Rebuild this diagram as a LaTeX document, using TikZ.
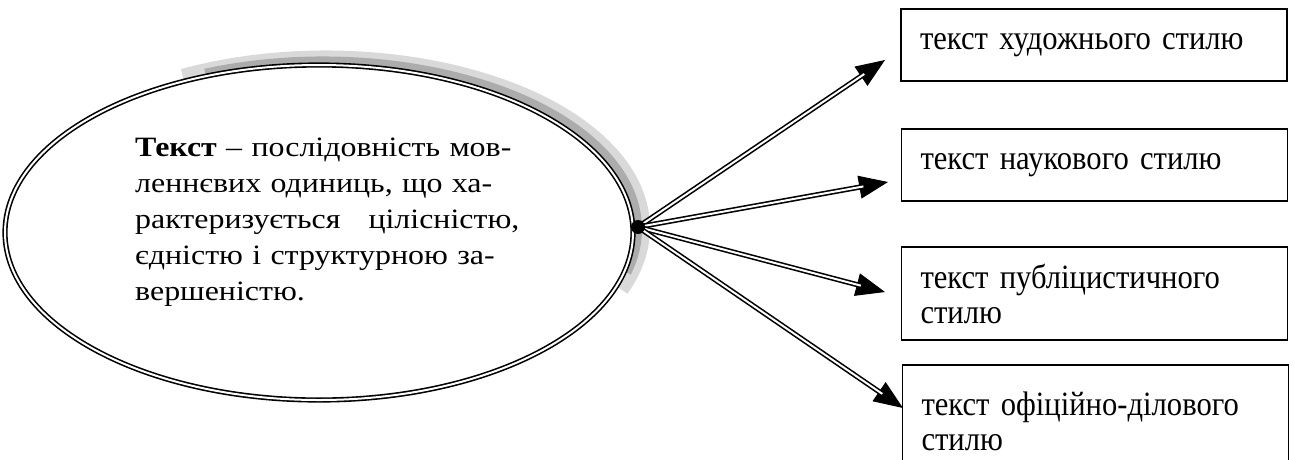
\documentclass[tikz,border=0pt]{standalone}
\usepackage{fontspec}
\setmainfont{Liberation Serif}
\newfontfamily\ovalfont[FakeStretch=1.14]{Liberation Serif}
\newfontfamily\boxfont[FakeStretch=0.9]{Liberation Serif}
\usetikzlibrary{shapes.geometric,arrows.meta}
\tikzset{
  stylebox/.style={draw, line width=1.5pt, minimum width=386pt, text width=348pt, inner xsep=19pt, inner ysep=0pt, align=left, font=\boxfont\fontsize{34}{35}\selectfont},
  ovalshape/.style={ellipse, draw, double, line width=1.6pt, double distance=2pt, fill=white, minimum width=628pt, minimum height=335pt, inner sep=0pt},
  headline/.style={-{Triangle[length=29pt,width=23pt]}, line width=1pt},
  shaftline/.style={double, line width=1.6pt, double distance=2pt, shorten >=25pt},
}
\begin{document}
\begin{tikzpicture}[x=1pt,y=-1pt]
\useasboundingbox (0,0) rectangle (1295,459);
% shadow
\draw[gray!30, line width=20pt] (326,228) ++(-117:314 and 167.5) arc[start angle=-117, end angle=21, x radius=314, y radius=167.5];
\draw[gray!65, line width=10pt] (323,229) ++(-112:314 and 167.5) arc[start angle=-112, end angle=15, x radius=314, y radius=167.5];
\node[ovalshape] (ell) at (319,232.5) {};
\node[anchor=north west, inner sep=0pt, text width=390pt, align=left, font=\ovalfont\fontsize{28}{36}\selectfont] (etext) at (135,136)
{\makebox[390pt][s]{\rule{0pt}{20pt}\textbf{Текст} – послідовність мов-}\\
\makebox[390pt][s]{леннєвих одиниць, що ха-}\\
\makebox[390pt][s]{рактеризується\ \ \ цілісністю,}\\
\makebox[390pt][s]{єдністю і структурною за-}\\
вершеністю.};
\coordinate (hub) at (638,227);
\node[stylebox, minimum height=72pt] (b1) at (1094,45) {текст художнього стилю};
\node[stylebox, minimum height=72pt] (b2) at (1094.5,165) {текст наукового стилю};
\node[stylebox, minimum height=93pt] (b3) at (1094.5,293.5) {текст публіцистичного\\стилю};
\node[stylebox, minimum height=112pt] (b4) at (1095.5,421) {текст офіційно-ділового\\стилю};
\coordinate (t1) at (885,60);
\coordinate (t2) at (888,182);
\coordinate (t3) at (885,292);
\coordinate (t4) at (903,408);
\foreach \t in {t1,t2,t3,t4}{
  \draw[headline] (hub) -- (\t);
  \draw[shaftline] (hub) -- (\t);
}
\fill (hub) circle (7pt);
\end{tikzpicture}
\end{document}
